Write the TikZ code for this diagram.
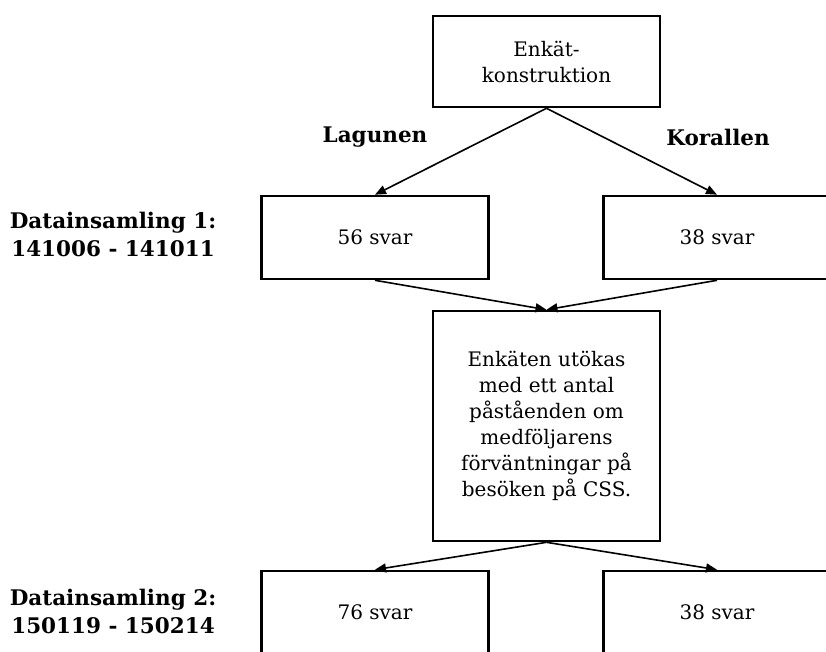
\documentclass[tikz,border=0pt]{standalone}
\usepackage{fontspec}
\setmainfont{DejaVu Serif}
\usetikzlibrary{positioning,arrows.meta}

\begin{document}
\begin{tikzpicture}[x=1pt,y=-1pt,
  font=\fontsize{20}{26}\selectfont,
  ruta/.style={draw, line width=2.6pt, minimum width=227pt, minimum height=83pt, align=center, inner sep=0pt},
  pil/.style={-{Triangle[length=11pt,width=9pt]}, line width=1.6pt},
  rubrik/.style={font=\fontsize{21.5}{28}\selectfont\bfseries, align=center}]
  \def\w{826} % picture width
  \def\h{651} % picture height
  \useasboundingbox (0,0) rectangle (\w,\h);
  \clip (0,0) rectangle (\w,\h);
  % boxes
  \node[ruta, minimum height=91pt] (enkat) at (546.5,61.5) {Enkät-\\konstruktion};
  \node[ruta] (lag1) at (375,237.5) {56 svar};
  \node[ruta] (kor1) at (717,237.5) {38 svar};
  \node[ruta, minimum height=230pt] (utok) at (546.5,426) {Enkäten utökas\\med ett antal\\påståenden om\\medföljarens\\förväntningar på\\besöken på CSS.};
  \node[ruta] (lag2) at (375,612.5) {76 svar};
  \node[ruta] (kor2) at (717,612.5) {38 svar};
  % labels
  \node[rubrik] (lagunen) at (375,137) {Lagunen};
  \node[rubrik] (korallen) at (718,137) {Korallen};
  \node[rubrik] (data1) at (113,234) {Datainsamling 1:\\141006 - 141011};
  \node[rubrik] (data2) at (113,611.5) {Datainsamling 2:\\150119 - 150214};
  % arrows
  \draw[pil] (enkat.south) -- (lag1.north);
  \draw[pil] (enkat.south) -- (kor1.north);
  \draw[pil] (lag1.south) -- (utok.north);
  \draw[pil] (kor1.south) -- (utok.north);
  \draw[pil] (utok.south) -- (lag2.north);
  \draw[pil] (utok.south) -- (kor2.north);
\end{tikzpicture}
\end{document}
